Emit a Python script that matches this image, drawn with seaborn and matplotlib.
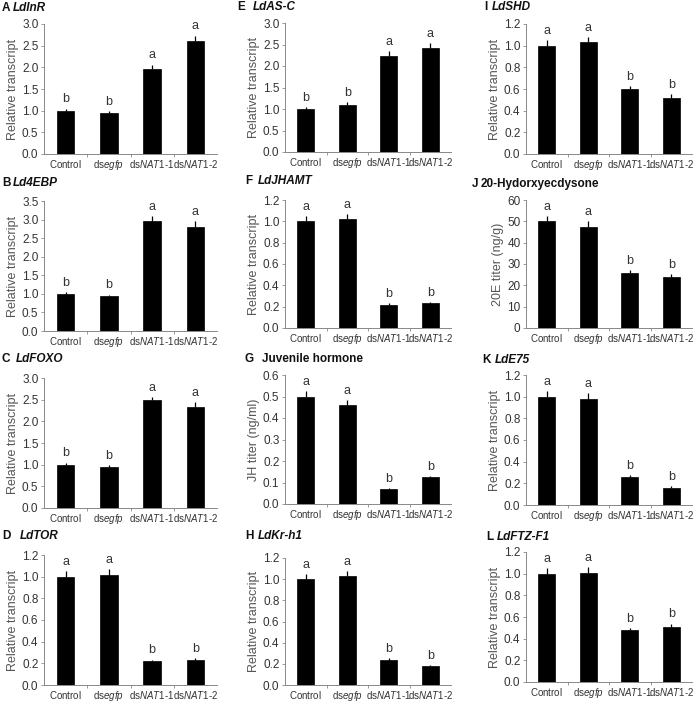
import matplotlib
matplotlib.use("Agg")
import matplotlib.pyplot as plt
import seaborn as sns
import pandas as pd
import numpy as np

sns.set_style("ticks")
plt.rcParams['font.family'] = ['Liberation Sans', 'DejaVu Sans']
plt.rcParams['mathtext.fontset'] = 'custom'
plt.rcParams['mathtext.rm'] = 'Liberation Sans'
plt.rcParams['mathtext.it'] = 'Liberation Sans:italic'

categories = ["Control", "dsegfp", "dsNAT1-1", "dsNAT1-2"]
tick_labels = [r"$\mathrm{Control}$", r"ds$\mathit{egfp}$", r"ds$\mathit{NAT1}$-1", r"ds$\mathit{NAT1}$-2"]

# panel values, errors, significance letters
A_vals = [1.00, 0.94, 1.97, 2.61]; A_err = [0.05, 0.05, 0.09, 0.12]; A_sig = ["b", "b", "a", "a"]
B_vals = [1.00, 0.93, 2.95, 2.81]; B_err = [0.05, 0.05, 0.15, 0.15]; B_sig = ["b", "b", "a", "a"]
C_vals = [1.00, 0.94, 2.49, 2.32]; C_err = [0.05, 0.05, 0.07, 0.12]; C_sig = ["b", "b", "a", "a"]
D_vals = [1.00, 1.02, 0.22, 0.23]; D_err = [0.05, 0.05, 0.015, 0.015]; D_sig = ["a", "a", "b", "b"]
E_vals = [1.00, 1.10, 2.23, 2.41]; E_err = [0.05, 0.06, 0.12, 0.12]; E_sig = ["b", "b", "a", "a"]
F_vals = [1.00, 1.02, 0.22, 0.23]; F_err = [0.05, 0.05, 0.012, 0.012]; F_sig = ["a", "a", "b", "b"]
G_vals = [0.50, 0.46, 0.07, 0.125]; G_err = [0.025, 0.025, 0.004, 0.006]; G_sig = ["a", "a", "b", "b"]
H_vals = [1.00, 1.03, 0.24, 0.18]; H_err = [0.05, 0.05, 0.012, 0.009]; H_sig = ["a", "a", "b", "b"]
I_vals = [1.00, 1.03, 0.60, 0.52]; I_err = [0.05, 0.05, 0.03, 0.03]; I_sig = ["a", "a", "b", "b"]
J_vals = [50.0, 47.5, 26.0, 24.0]; J_err = [2.5, 2.5, 1.3, 1.2]; J_sig = ["a", "a", "b", "b"]
K_vals = [1.00, 0.98, 0.26, 0.16]; K_err = [0.05, 0.05, 0.013, 0.013]; K_sig = ["a", "a", "b", "b"]
L_vals = [1.00, 1.01, 0.48, 0.51]; L_err = [0.05, 0.05, 0.02, 0.03]; L_sig = ["a", "a", "b", "b"]

W, H = 700, 704
fig = plt.figure(figsize=(7.0, 7.04), dpi=100)

TXT = "#333333"
SP = "#888888"

# (letter, name, italic name, values, errors, sig, ymax, ystep, ylabel, fmt,
#  axis left px, axis right px, top px, bottom px, letter x, name x, title y)
panels = [
    ("A", "LdInR", True, A_vals, A_err, A_sig, 3.0, 0.5, "Relative transcript", "{:.1f}", 44, 217, 24, 154, 2, 13, 8),
    ("B", "Ld4EBP", True, B_vals, B_err, B_sig, 3.5, 0.5, "Relative transcript", "{:.1f}", 44, 217, 201, 331, 2, 13, 183),
    ("C", "LdFOXO", True, C_vals, C_err, C_sig, 3.0, 0.5, "Relative transcript", "{:.1f}", 44, 217, 378, 508, 2, 16, 359),
    ("D", "LdTOR", True, D_vals, D_err, D_sig, 1.2, 0.2, "Relative transcript", "{:.1f}", 44, 217, 555, 685, 2, 20, 536),
    ("E", "LdAS-C", True, E_vals, E_err, E_sig, 3.0, 0.5, "Relative transcript", "{:.1f}", 285, 451, 23, 152, 237, 253, 7),
    ("F", "LdJHAMT", True, F_vals, F_err, F_sig, 1.2, 0.2, "Relative transcript", "{:.1f}", 285, 451, 200, 328, 245, 258, 181),
    ("G", "Juvenile hormone", False, G_vals, G_err, G_sig, 0.6, 0.1, "JH titer (ng/ml)", "{:.1f}", 285, 451, 375, 504, 245, 262, 359),
    ("H", "LdKr-h1", True, H_vals, H_err, H_sig, 1.2, 0.2, "Relative transcript", "{:.1f}", 285, 451, 558, 685, 245, 258, 536),
    ("I", "LdSHD", True, I_vals, I_err, I_sig, 1.2, 0.2, "Relative transcript", "{:.1f}", 526, 692, 24, 154, 484, 492, 7),
    ("J", "20-Hydorxyecdysone", False, J_vals, J_err, J_sig, 60, 10, "20E titer (ng/g)", "{:.0f}", 526, 692, 200, 328, 472, 481, 184),
    ("K", "LdE75", True, K_vals, K_err, K_sig, 1.2, 0.2, "Relative transcript", "{:.1f}", 526, 692, 375, 505, 482, 495, 360),
    ("L", "LdFTZ-F1", True, L_vals, L_err, L_sig, 1.2, 0.2, "Relative transcript", "{:.1f}", 526, 692, 552, 682, 486, 497, 537),
]

for (let, name, ital, vals, errs, sig, ymax, ystep, ylab, fmt, xl, xr, yt, yb, lx, nx, ty) in panels:
    ax = fig.add_axes([xl / W, (H - yb) / H, (xr - xl) / W, (yb - yt) / H])
    df = pd.DataFrame({"group": categories, "value": vals})
    sns.barplot(data=df, x="group", y="value", color="black", width=0.4,
                saturation=1, errorbar=None, ax=ax, edgecolor="black", linewidth=0.5)
    x = np.arange(len(categories))
    ax.errorbar(x, vals, yerr=[np.zeros(len(vals)), errs], fmt="none",
                ecolor="black", elinewidth=0.9, capsize=0)
    for xi, v, e, s in zip(x, vals, errs, sig):
        ax.text(xi, v + e + ymax * 0.025, s, ha="center", va="bottom",
                fontsize=9, color=TXT)
    ax.set_xlim(-0.5, 3.5)
    ax.set_ylim(0, ymax)
    yt_vals = np.arange(0, ymax + ystep / 2, ystep)
    ax.set_yticks(yt_vals)
    ax.set_yticklabels([fmt.format(t) for t in yt_vals])
    ax.set_xticks(x)
    ax.set_xticklabels(tick_labels)
    ax.set_xticks([0.5, 1.5, 2.5], minor=True)
    ax.tick_params(axis="x", which="major", length=0, pad=3, labelsize=7, colors=TXT)
    ax.tick_params(axis="x", which="minor", length=2.5, width=0.6, color=SP)
    ax.tick_params(axis="y", length=2.5, width=0.6, pad=1.5, labelsize=8.5,
                   colors=TXT, color=SP)
    ax.set_xlabel("")
    ax.set_ylabel(ylab, fontsize=9, color="#555555", labelpad=2)
    sns.despine(ax=ax)
    for sp in ["left", "bottom"]:
        ax.spines[sp].set_color(SP)
        ax.spines[sp].set_linewidth(0.7)
    fig.text(lx / W, 1 - ty / H, let, fontsize=8.5, fontweight="bold",
             color="#111111", ha="left", va="center")
    fig.text(nx / W, 1 - ty / H, name, fontsize=8.5, fontweight="bold",
             fontstyle="italic" if ital else "normal",
             color="#111111", ha="left", va="center")

fig.savefig("out.png", dpi=100)
